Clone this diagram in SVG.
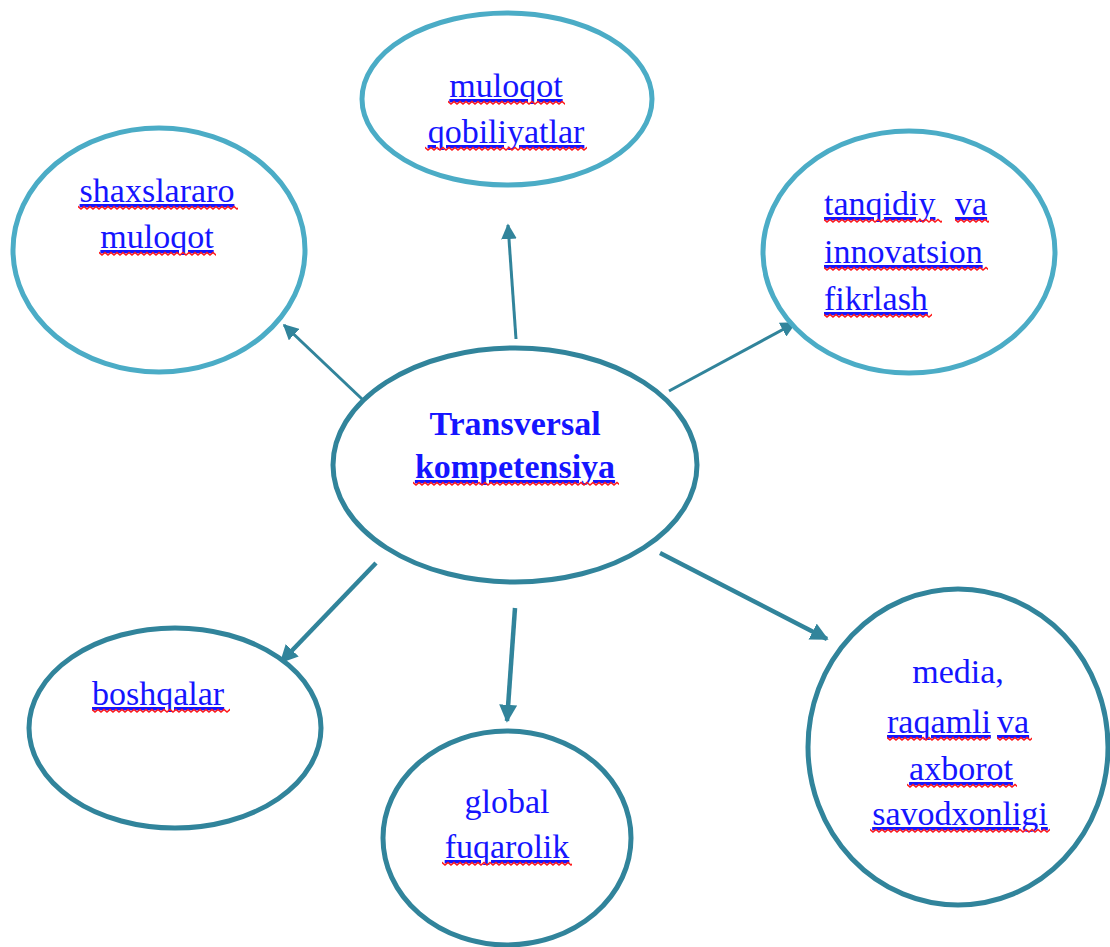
<svg xmlns="http://www.w3.org/2000/svg" width="1110" height="947" viewBox="0 0 1110 947">
<style>
.light{fill:#fff;stroke:#4bacc6;stroke-width:5}
.dark{fill:#fff;stroke:#31849b;stroke-width:5}
.t{font-family:"Liberation Serif","Times New Roman",serif;font-size:34px;fill:#1515ff}
.c{text-anchor:middle}
.b{font-weight:bold}
.u{text-decoration:underline}
.conn{stroke:#31849b;fill:none}
</style>
<defs>
<marker id="ah" viewBox="0 0 10 10" refX="9" refY="5" markerWidth="5.2" markerHeight="5.2" orient="auto" markerUnits="strokeWidth">
<path d="M0,0 L10,5 L0,10 z" fill="#31849b"/>
</marker>
<marker id="ah2" viewBox="0 0 10 10" refX="9" refY="5" markerWidth="4" markerHeight="4" orient="auto" markerUnits="strokeWidth">
<path d="M0,0 L10,5 L0,10 z" fill="#31849b"/>
</marker>
<pattern id="wave" width="6" height="5" patternUnits="userSpaceOnUse">
<path d="M-0.5,1 L3,4 L6.5,1" stroke="#ff1a1a" stroke-width="1.5" fill="none"/>
</pattern>
</defs>
<rect width="1110" height="947" fill="#fff"/>

<g id="connectors">
<line class="conn" x1="362" y1="399" x2="284" y2="325" stroke-width="3" marker-end="url(#ah)"/>
<line class="conn" x1="516" y1="339" x2="508" y2="225" stroke-width="3" marker-end="url(#ah)"/>
<line class="conn" x1="669" y1="391" x2="795" y2="323" stroke-width="3" marker-end="url(#ah)"/>
<line class="conn" x1="376" y1="563" x2="281" y2="662" stroke-width="4.5" marker-end="url(#ah2)"/>
<line class="conn" x1="515" y1="608" x2="507" y2="721" stroke-width="4.5" marker-end="url(#ah2)"/>
<line class="conn" x1="660" y1="553" x2="827" y2="639" stroke-width="4.5" marker-end="url(#ah2)"/>
</g>

<g id="center">
<ellipse class="dark" cx="515" cy="465" rx="182" ry="117"/>
<text class="t c b" x="515" y="435">Transversal</text>
<text class="t c b u" x="515" y="478">kompetensiya</text>
<g transform="translate(413,481)"><rect width="206" height="5" fill="url(#wave)"/></g>
</g>

<g id="node-top">
<ellipse class="light" cx="507" cy="99" rx="145" ry="86"/>
<text class="t c u" x="506" y="97">muloqot</text>
<text class="t c u" x="506" y="143">qobiliyatlar</text>
<g transform="translate(448,100)"><rect width="117" height="5" fill="url(#wave)"/></g>
<g transform="translate(425,146)"><rect width="162" height="5" fill="url(#wave)"/></g>
</g>

<g id="node-left-top">
<ellipse class="light" cx="159" cy="250" rx="146" ry="122"/>
<text class="t c u" x="157" y="202">shaxslararo</text>
<text class="t c u" x="157" y="248">muloqot</text>
<g transform="translate(78,205)"><rect width="160" height="5" fill="url(#wave)"/></g>
<g transform="translate(99,251)"><rect width="117" height="5" fill="url(#wave)"/></g>
</g>

<g id="node-right-top">
<ellipse class="light" cx="909" cy="252" rx="146" ry="121"/>
<text class="t" x="824" y="215"><tspan class="u">tanqidiy</tspan>  <tspan class="u" x="955">va</tspan></text>
<text class="t u" x="824" y="263">innovatsion</text>
<text class="t u" x="824" y="310">fikrlash</text>
<g transform="translate(824,218)"><rect width="118" height="5" fill="url(#wave)"/></g>
<g transform="translate(955,218)"><rect width="34" height="5" fill="url(#wave)"/></g>
<g transform="translate(824,266)"><rect width="164" height="5" fill="url(#wave)"/></g>
<g transform="translate(824,313)"><rect width="108" height="5" fill="url(#wave)"/></g>
</g>

<g id="node-left-bottom">
<ellipse class="dark" cx="175" cy="728" rx="146" ry="100"/>
<text class="t u" x="92" y="705">boshqalar</text>
<g transform="translate(92,708)"><rect width="138" height="5" fill="url(#wave)"/></g>
</g>

<g id="node-bottom">
<ellipse class="dark" cx="507" cy="838" rx="124" ry="107"/>
<text class="t c" x="507" y="813">global</text>
<text class="t c u" x="507" y="858">fuqarolik</text>
<g transform="translate(442,861)"><rect width="130" height="5" fill="url(#wave)"/></g>
</g>

<g id="node-right-bottom">
<ellipse class="dark" cx="958" cy="747" rx="150" ry="158"/>
<text class="t c" x="958" y="683">media,</text>
<text class="t" x="887" y="733"><tspan class="u">raqamli</tspan> <tspan class="u" x="997">va</tspan></text>
<text class="t c u" x="961" y="780">axborot</text>
<text class="t c u" x="960" y="825">savodxonligi</text>
<g transform="translate(887,736)"><rect width="103" height="5" fill="url(#wave)"/></g>
<g transform="translate(997,736)"><rect width="35" height="5" fill="url(#wave)"/></g>
<g transform="translate(907,783)"><rect width="110" height="5" fill="url(#wave)"/></g>
<g transform="translate(870,828)"><rect width="180" height="5" fill="url(#wave)"/></g>
</g>
</svg>
